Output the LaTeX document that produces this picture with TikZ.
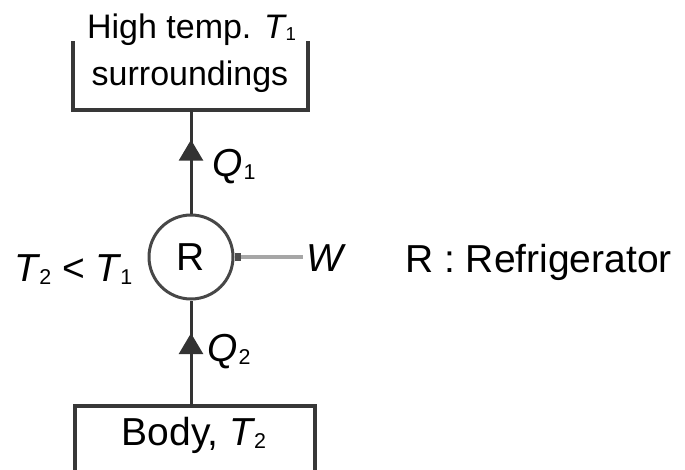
\documentclass[tikz,border=0pt]{standalone}
\usepackage{fontspec}
\setmainfont{Liberation Sans}
\usetikzlibrary{positioning,arrows.meta,decorations.markings}
\newcommand{\varsub}[3][-0.04em]{\textit{#2}\kern#1\raisebox{-0.08em}{\scalebox{0.55}{#3}}}

\begin{document}
\begin{tikzpicture}[
  x=1pt, y=-1pt,
  font=\fontsize{39}{47}\selectfont,
  tag/.style={inner sep=0, anchor=base},
  smalltag/.style={tag, font=\fontsize{34}{40}\selectfont},
  wall/.style={line width=3.5pt, black!78, line cap=rect},
  heat/.style={line width=3pt, black!80, postaction={decorate},
               decoration={markings, mark=at position #1 with
                 {\arrow{Triangle[length=21pt, width=24pt]}}}},
  work/.style={line width=3.5pt, black!35,
               -{Square[length=6pt, width=8pt, black!70]}},
]
  \useasboundingbox (0,0) rectangle (685,469);

  % refrigerator
  \node[circle, draw, line width=3pt, draw=black!72, minimum size=84pt,
        inner sep=0] (fridge) at (191,257) {R};

  % reservoirs
  \node[inner sep=0, minimum width=235pt, minimum height=67pt] (hot) at (190.5,76.5) {};
  \draw[wall] (hot.north west) -- (hot.south west) -- (hot.south east) -- (hot.north east);
  \node[smalltag] (hotname) at (191.5,38) {High temp. \varsub{T}{1}};
  \node[smalltag] (hotsurr) at (190,85) {surroundings};

  \node[inner sep=0, minimum width=240pt, minimum height=70pt] (body) at (195,441) {};
  \draw[wall] (body.south west) -- (body.north west) -- (body.north east) -- (body.south east);
  \node[tag] (bodyname) at (194,445) {Body, \varsub{T}{2}};

  % heat flows
  \draw[heat=0.714] (fridge.north) -- (fridge.north |- hot.south);
  \draw[heat=0.69] (fridge.south |- body.north) -- (fridge.south);
  \node[tag, anchor=base west] (qhot) at (212,176) {\varsub[0.03em]{Q}{1}};
  \node[tag, anchor=base west] (qcold) at (207,361) {\varsub[0.03em]{Q}{2}};

  % work input
  \node[tag] (win) at (326,271) {\textit{W}};
  \draw[work, shorten <=3pt] (win.west |- fridge.east) -- (fridge.east);

  \node[tag] (cond) at (73.5,281) {\varsub{T}{2} < \varsub{T}{1}};
  \node[tag, anchor=base west] (legend) at (405,272) {R : Refrigerator};
\end{tikzpicture}
\end{document}
